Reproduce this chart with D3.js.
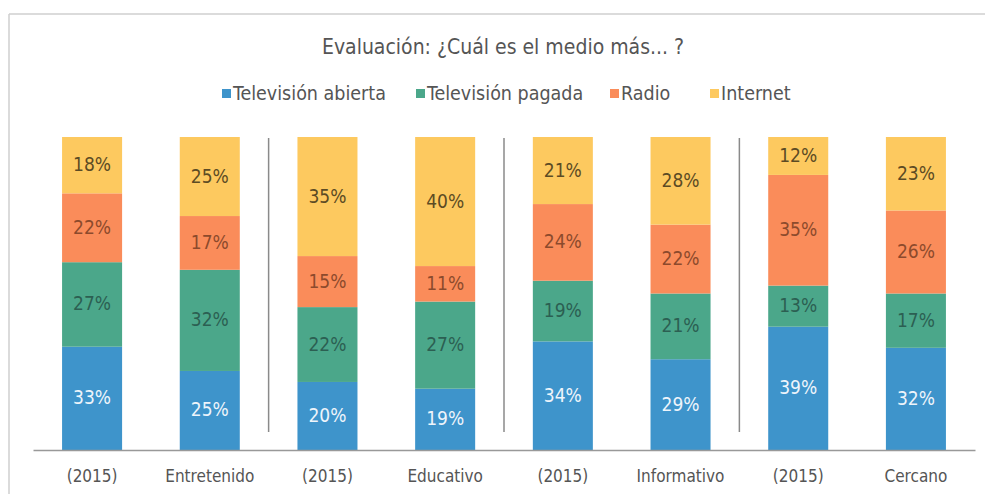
<!DOCTYPE html>
<html>
<head>
<meta charset="utf-8">
<script src="https://cdn.jsdelivr.net/npm/d3@7"></script>
<style>
  body { margin: 0; background: #fff; }
  svg { display: block; font-family: "DejaVu Sans Condensed", "Liberation Sans Narrow", sans-serif; }
</style>
</head>
<body>
<svg id="chart"></svg>
<script>
// data
const categories = ["(2015)", "Entretenido", "(2015) ", "Educativo", "(2015)  ", "Informativo", "(2015)   ", "Cercano"];
const series = ["Televisión abierta", "Televisión pagada", "Radio", "Internet"];
const tvAbierta = [33, 25, 20, 19, 34, 29, 39, 32];
const tvPagada = [27, 32, 22, 27, 19, 21, 13, 17];
const radio = [22, 17, 15, 11, 24, 22, 35, 26];
const internet = [18, 25, 35, 40, 21, 28, 12, 23];
const colors = ["#3e94cb", "#4ba78a", "#fa8c5a", "#fdc95f"];
const labelColors = ["#eef5fb", "#2c5f52", "#8c4a2c", "#5c4b24"];

const width = 985, height = 494;
const svg = d3.select("#chart").attr("width", width).attr("height", height);

// card frame
svg.append("line").attr("x1", 9).attr("x2", width).attr("y1", 14).attr("y2", 14)
    .attr("stroke", "#cfcfcf").attr("stroke-width", 1.5);
svg.append("line").attr("x1", 9).attr("x2", 9).attr("y1", 14).attr("y2", height)
    .attr("stroke", "#cfcfcf").attr("stroke-width", 1.5);

// title
svg.append("text")
    .attr("x", 503).attr("y", 54)
    .attr("text-anchor", "middle")
    .attr("font-size", 21)
    .attr("fill", "#555")
    .text("Evaluación: ¿Cuál es el medio más... ?");

// legend
const legendX = [222, 416, 610, 710];
const legend = svg.append("g");
series.forEach(function (s, i) {
    legend.append("rect")
        .attr("x", legendX[i]).attr("y", 89)
        .attr("width", 9).attr("height", 9)
        .attr("fill", colors[i]);
    legend.append("text")
        .attr("x", legendX[i] + 11).attr("y", 100)
        .attr("font-size", 19.5)
        .attr("fill", "#555")
        .text(s);
});

// table for stacking
const table = categories.map(function (c, i) {
    return { cat: c, 0: tvAbierta[i], 1: tvPagada[i], 2: radio[i], 3: internet[i] };
});
const stacked = d3.stack().keys([0, 1, 2, 3]).offset(d3.stackOffsetExpand)(table);

// scales
const x = d3.scaleBand()
    .domain(categories)
    .range([33, 975])
    .paddingInner(0.49)
    .paddingOuter(0.247);
const y = d3.scaleLinear().domain([0, 1]).range([450, 137]);

// bars
const layers = svg.selectAll(".layer")
    .data(stacked)
    .enter().append("g")
    .attr("class", "layer")
    .attr("fill", function (d, i) { return colors[i]; });

layers.selectAll("rect")
    .data(function (d) { return d; })
    .enter().append("rect")
    .attr("x", function (d) { return x(d.data.cat); })
    .attr("y", function (d) { return y(d[1]); })
    .attr("width", x.bandwidth())
    .attr("height", function (d) { return y(d[0]) - y(d[1]); });

// value labels
stacked.forEach(function (layer, k) {
    svg.append("g").selectAll("text")
        .data(layer)
        .enter().append("text")
        .attr("x", function (d) { return x(d.data.cat) + x.bandwidth() / 2; })
        .attr("y", function (d) { return (y(d[0]) + y(d[1])) / 2 + 6; })
        .attr("text-anchor", "middle")
        .attr("font-size", 19)
        .attr("fill", labelColors[k])
        .text(function (d) { return d.data[k] + "%"; });
});

// separators between groups
[1, 3, 5].forEach(function (i) {
    const sx = (x(categories[i]) + x.bandwidth() + x(categories[i + 1])) / 2;
    svg.append("line")
        .attr("x1", sx).attr("x2", sx)
        .attr("y1", 138).attr("y2", 432)
        .attr("stroke", "#8a8a8a").attr("stroke-width", 1.5);
});

// x axis
const xAxis = svg.append("g")
    .attr("transform", "translate(0,450)")
    .call(d3.axisBottom(x).tickSize(0).tickPadding(20));
xAxis.select(".domain").attr("stroke", "#999").attr("stroke-width", 1.5);
xAxis.selectAll("text")
    .attr("font-size", 17)
    .attr("fill", "#555")
    .attr("font-family", "\"DejaVu Sans Condensed\", \"Liberation Sans Narrow\", sans-serif")
    .text(function (d) { return d.trim(); });
</script>
</body>
</html>
